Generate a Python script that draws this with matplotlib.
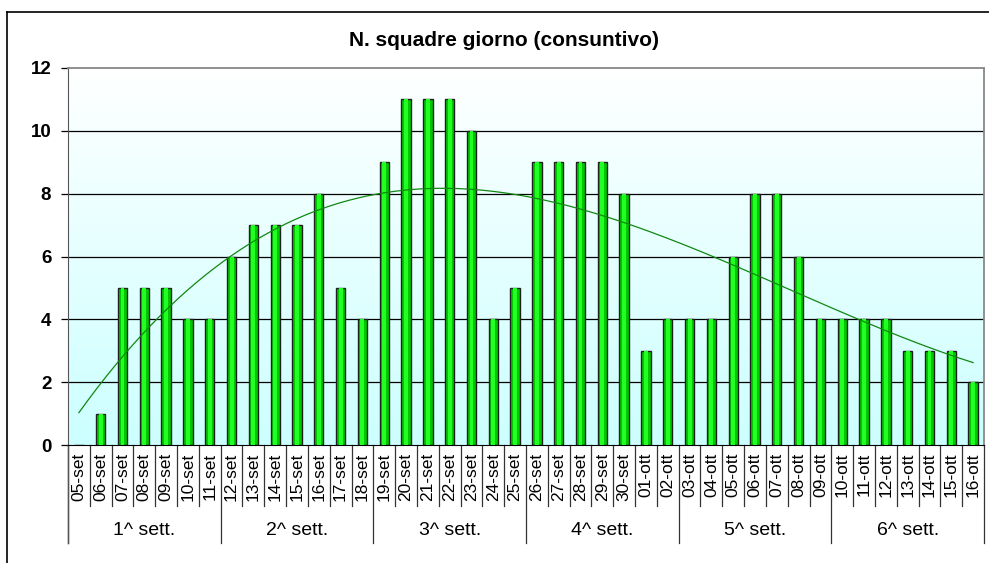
import numpy as np
import matplotlib
matplotlib.use('Agg')
import matplotlib.pyplot as plt
from matplotlib.colors import LinearSegmentedColormap

plt.rcParams['font.family'] = ['Liberation Sans', 'DejaVu Sans']

days = ['05-set', '06-set', '07-set', '08-set', '09-set', '10-set', '11-set',
        '12-set', '13-set', '14-set', '15-set', '16-set', '17-set', '18-set',
        '19-set', '20-set', '21-set', '22-set', '23-set', '24-set', '25-set',
        '26-set', '27-set', '28-set', '29-set', '30-set', '01-ott', '02-ott',
        '03-ott', '04-ott', '05-ott', '06-ott', '07-ott', '08-ott', '09-ott',
        '10-ott', '11-ott', '12-ott', '13-ott', '14-ott', '15-ott', '16-ott']
squadre = [0, 1, 5, 5, 5, 4, 4,
           6, 7, 7, 7, 8, 5, 4,
           9, 11, 11, 11, 10, 4, 5,
           9, 9, 9, 9, 8, 3, 4,
           4, 4, 6, 8, 8, 6, 4,
           4, 4, 4, 3, 3, 3, 2]
weeks = ['1^ sett.', '2^ sett.', '3^ sett.', '4^ sett.', '5^ sett.', '6^ sett.']
week_len = 7

x = np.arange(len(days))
y = np.array(squadre, dtype=float)

fig = plt.figure(figsize=(9.89, 5.63), dpi=100)
ax = fig.add_axes([68 / 989, 1 - 445 / 563, 916 / 989, 377 / 563])

# background gradient, white on top, light cyan at the bottom
cmap = LinearSegmentedColormap.from_list('bg', ['#ccffff', '#ffffff'])
grad = np.linspace(0, 1, 256).reshape(-1, 1)
ax.imshow(grad, cmap=cmap, origin='lower', aspect='auto',
          extent=[-0.5, len(days) - 0.5, 0, 12], zorder=0)

for v in range(2, 12, 2):
    ax.axhline(v, color='#000000', linewidth=0.9, zorder=1)

ax.bar(x, y, width=0.43, color='#00c800', edgecolor='#202020', linewidth=1.0, zorder=2)
ax.bar(x, y, width=0.18, color='#22ff22', linewidth=0, zorder=3)

# polynomial trend line
coef = np.polyfit(x + 1, y, 3)
xt = np.linspace(0, len(days) - 1, 200)
ax.plot(xt, np.polyval(coef, xt + 1), color='#118811', linewidth=0.9, zorder=4)

ax.set_xlim(-0.5, len(days) - 0.5)
ax.set_ylim(0, 12)
ax.set_yticks(range(0, 13, 2))
ax.set_yticklabels([str(v) for v in range(0, 13, 2)], fontsize=13.5, fontweight='bold')
ax.tick_params(axis='y', length=5, width=0.9, pad=7)
ax.set_xticks([])

for side in ['top', 'right']:
    ax.spines[side].set_color('#888888')
    ax.spines[side].set_linewidth(1.3)
ax.spines['left'].set_color('#555555')
ax.spines['bottom'].set_color('#000000')

trans = ax.get_xaxis_transform()
for i, d in enumerate(days):
    ax.text(i, -0.02, d, transform=trans, rotation=90, ha='center', va='top', fontsize=12.5)
for i in range(len(days) + 1):
    bottom = -0.26 if i % week_len == 0 else -0.162
    ax.plot([i - 0.5, i - 0.5], [0, bottom], transform=trans, color='#333333',
            linewidth=0.9, clip_on=False)
ax.plot([-0.5, -0.5], [0, -0.26], transform=trans, color='#555555', linewidth=1.0, clip_on=False)
for k, w in enumerate(weeks):
    ax.text(k * week_len + (week_len - 1) / 2, -0.228, w, transform=trans,
            ha='center', va='center', fontsize=14)

fig.text(504 / 989, 1 - 41 / 563, 'N. squadre giorno (consuntivo)', ha='center', va='center',
         fontsize=15, fontweight='bold')

# chart frame
fig.add_artist(plt.Line2D([7 / 989, 7 / 989], [0, 1 - 12 / 563], transform=fig.transFigure,
                          color='#000000', linewidth=1.2))
fig.add_artist(plt.Line2D([7 / 989, 1], [1 - 12 / 563, 1 - 12 / 563], transform=fig.transFigure,
                          color='#000000', linewidth=1.2))

fig.savefig('out.png', dpi=100)
